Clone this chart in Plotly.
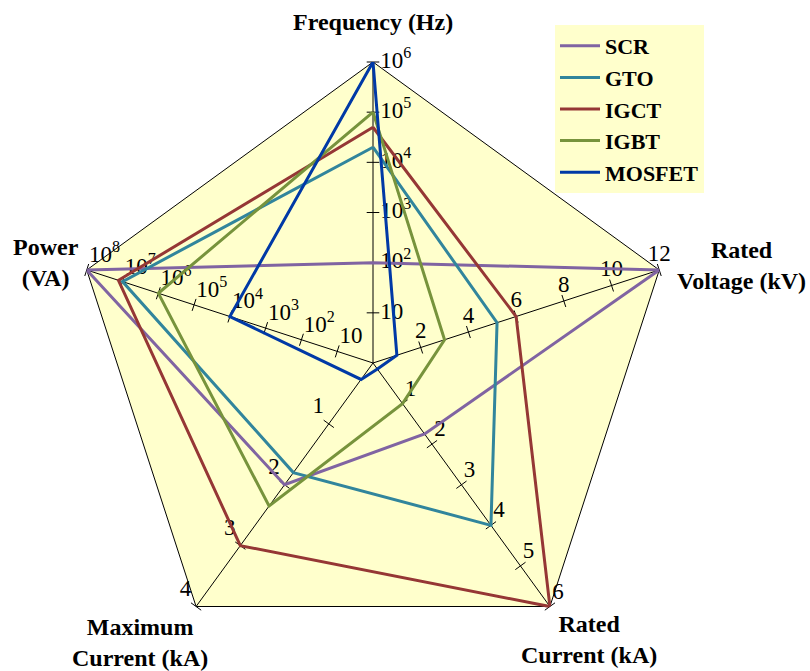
import math
import plotly.graph_objects as go

# ---- data -------------------------------------------------------------
devices = ["SCR", "GTO", "IGCT", "IGBT", "MOSFET"]
colors = ["#8064A2", "#31859C", "#953735", "#77933C", "#0039A6"]

frequency_hz = [1e2, 2e4, 5e4, 1e5, 1e6]
rated_voltage_kv = [12, 5.2, 6, 3, 1]
rated_current_ka = [1.75, 4, 6, 1, 0.15]
max_current_ka = [2, 1.8, 3, 2.35, 0.27]
power_va = [1e8, 1e7, 1.3e7, 1e6, 1e4]

freq_ticks = [1e1, 1e2, 1e3, 1e4, 1e5, 1e6]
voltage_ticks = [2, 4, 6, 8, 10, 12]
rated_current_ticks = [1, 2, 3, 4, 5, 6]
max_current_ticks = [1, 2, 3, 4]
power_ticks = [1e1, 1e2, 1e3, 1e4, 1e5, 1e6, 1e7, 1e8]

# ---- axis definitions (bearing clockwise from top, scale, label side) --
FONT = "Liberation Serif"
axes = [
    dict(bearing=0, log=True, vmax=1e6, ticks=freq_ticks,
         pos="middle right", pad=10),
    dict(bearing=72, log=False, vmax=12, ticks=voltage_ticks,
         pos="top center", pad=4),
    dict(bearing=144, log=False, vmax=6, ticks=rated_current_ticks,
         pos="top right", pad=2),
    dict(bearing=216, log=False, vmax=4, ticks=max_current_ticks,
         pos="top left", pad=6),
    dict(bearing=288, log=True, vmax=1e8, ticks=power_ticks,
         pos="top right", pad=2),
]


def scale(ax, v):
    if ax["log"]:
        return math.log10(v) / math.log10(ax["vmax"])
    return v / ax["vmax"]


def tick_text(ax, v):
    if ax["log"]:
        k = int(round(math.log10(v)))
        return "10" if k == 1 else "10<sup>%d</sup>" % k
    return "%g" % v


series = list(zip(frequency_hz, rated_voltage_kv, rated_current_ka,
                  max_current_ka, power_va))

fig = go.Figure()

# pentagon background
bearings = [a["bearing"] for a in axes]
fig.add_trace(go.Scatterpolar(
    r=[1] * 6, theta=bearings + [bearings[0]], mode="lines",
    fill="toself", fillcolor="#FFFFCC",
    line=dict(color="black", width=1), hoverinfo="skip", showlegend=False))

# spokes, ticks and tick labels
for ax in axes:
    fig.add_trace(go.Scatterpolar(
        r=[0, 1], theta=[ax["bearing"]] * 2, mode="lines",
        line=dict(color="black", width=1), hoverinfo="skip", showlegend=False))
    rs = [scale(ax, t) for t in ax["ticks"]]
    fig.add_trace(go.Scatterpolar(
        r=rs, theta=[ax["bearing"]] * len(rs), mode="markers",
        marker=dict(symbol="line-ew", size=9, angle=ax["bearing"],
                    color="black", line=dict(color="black", width=1)),
        hoverinfo="skip", showlegend=False, cliponaxis=False))
    fig.add_trace(go.Scatterpolar(
        r=rs, theta=[ax["bearing"]] * len(rs), mode="markers+text",
        marker=dict(size=ax["pad"], opacity=0),
        text=[tick_text(ax, t) for t in ax["ticks"]],
        textposition=ax["pos"],
        textfont=dict(family=FONT, size=23, color="black"),
        hoverinfo="skip", showlegend=False, cliponaxis=False))

# device polygons
for name, col, vals in zip(devices, colors, series):
    rs = [scale(ax, v) for ax, v in zip(axes, vals)]
    fig.add_trace(go.Scatterpolar(
        r=rs + [rs[0]], theta=bearings + [bearings[0]], mode="lines",
        name="<b>%s</b>" % name, line=dict(color=col, width=3),
        cliponaxis=False))

titles = [
    ("Frequency (Hz)", 373, 22),
    ("Rated<br>Voltage (kV)", 741, 265),
    ("Rated<br>Current (kA)", 589, 639),
    ("Maximum<br>Current (kA)", 140, 642),
    ("Power<br>(VA)", 46, 262),
]
W, H = 810, 671
annotations = [
    dict(text="<b>%s</b>" % t, x=x / W, y=1 - y / H, xref="paper", yref="paper",
         showarrow=False, xanchor="center", yanchor="middle",
         font=dict(family=FONT, size=24, color="black"))
    for t, x, y in titles
]

cx, cy, R = 373, 363, 301
fig.update_layout(
    width=W, height=H,
    margin=dict(l=0, r=0, t=0, b=0),
    paper_bgcolor="white",
    polar=dict(
        domain=dict(x=[(cx - R) / W, (cx + R) / W],
                    y=[1 - (cy + R) / H, 1 - (cy - R) / H]),
        bgcolor="rgba(0,0,0,0)",
        radialaxis=dict(visible=False, range=[0, 1]),
        angularaxis=dict(visible=False, rotation=90, direction="clockwise"),
    ),
    legend=dict(x=555 / W, y=1 - 25 / H, xanchor="left", yanchor="top",
                bgcolor="#FFFFCC", font=dict(family=FONT, size=22, color="black"),
                itemwidth=40, tracegroupgap=0),
    annotations=annotations,
    showlegend=True,
)

fig.write_html("out.html")
